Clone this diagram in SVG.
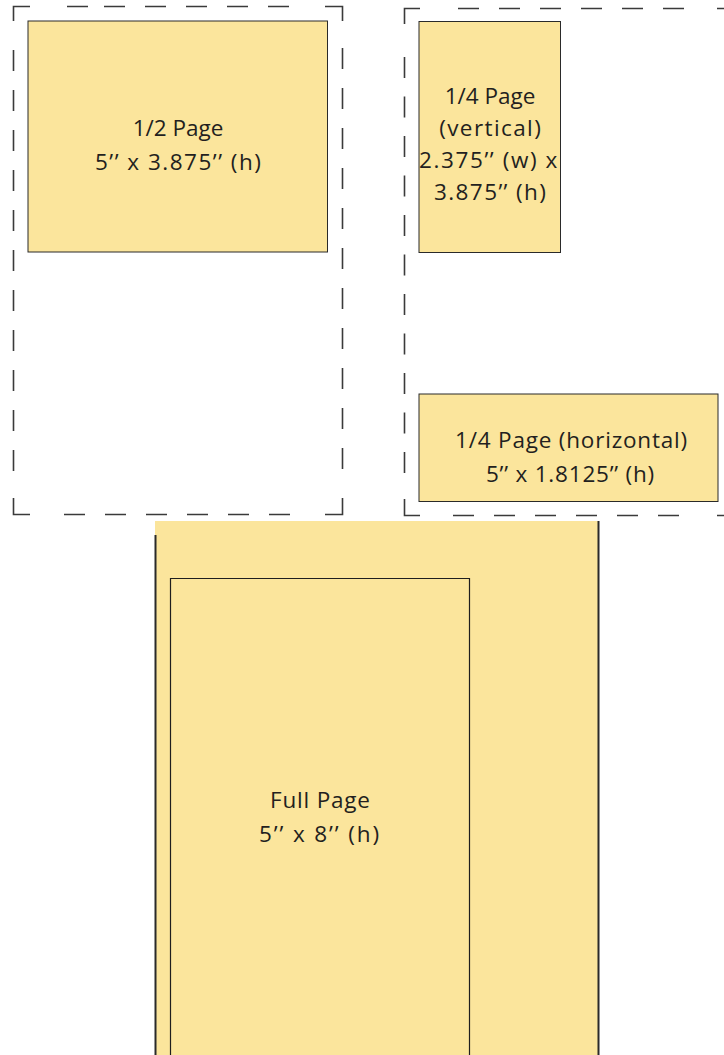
<svg xmlns="http://www.w3.org/2000/svg" width="724" height="1055" viewBox="0 0 724 1055">
<style>
.dash{fill:none;stroke:#3a3a3a;stroke-width:1.6}
.ad{fill:#FBE59C;stroke:#2a2a2a;stroke-width:1}
.t{font-family:"Open Sans","Noto Sans",sans-serif;font-size:22.5px;fill:#231F20;text-anchor:middle}
</style>
<rect width="724" height="1055" fill="#ffffff"/>
<g id="half-page-frame">
<path class="dash" d="M13.5,21 V6.5 H30 M67,6.5 h21 M104,6.5 h21 M145,6.5 h21 M186,6.5 h21 M227,6.5 h21 M268,6.5 h21 M325,6.5 H342.5 V21
M13.5,50 v21 M13.5,90 v21 M13.5,130 v21 M13.5,170 v21 M13.5,210 v21 M13.5,250 v21 M13.5,290 v21 M13.5,330 v21 M13.5,370 v21 M13.5,410 v21 M13.5,450 v21
M342.5,48 v21 M342.5,88 v21 M342.5,128 v21 M342.5,168 v21 M342.5,208 v21 M342.5,248 v21 M342.5,288 v21 M342.5,328 v21 M342.5,368 v21 M342.5,408 v21 M342.5,448 v21
M13.5,498 V514.5 H30 M64,514.5 h21 M105,514.5 h21 M146,514.5 h21 M187,514.5 h21 M228,514.5 h21 M269,514.5 h21 M325,514.5 H342.5 V498"/>
</g>
<g id="half-page">
<rect class="ad" x="28" y="21" width="299.5" height="231"/>
<text class="t" x="178" y="136">1/2 Page</text>
<text class="t" x="178.7" y="170" letter-spacing="1.5">5’’ x 3.875’’ (h)</text>
</g>
<g id="quarter-page-frame">
<path class="dash" d="M404.5,24 V8.5 H420 M458,8.5 h21 M499,8.5 h21 M540,8.5 h21 M581,8.5 h21 M622,8.5 h21 M663,8.5 h21 M717,8.5 h8
M404.5,57 v21 M404.5,96.5 v21 M404.5,136 v21 M404.5,175.5 v21 M404.5,215 v21 M404.5,254.5 v21 M404.5,294 v21 M404.5,333.5 v21 M404.5,373 v21 M404.5,412.5 v21 M404.5,452 v21
M404.5,499 V515.5 H420 M453,515.5 h21 M494,515.5 h21 M535,515.5 h21 M576,515.5 h21 M617,515.5 h21 M658,515.5 h21 M717,515.5 h8"/>
</g>
<g id="quarter-page-vertical">
<rect class="ad" x="419" y="21.5" width="141.5" height="231"/>
<text class="t" x="490" y="104">1/4 Page</text>
<text class="t" x="490.7" y="136" letter-spacing="1.4">(vertical)</text>
<text class="t" x="489" y="168" letter-spacing="1.6">2.375’’ (w) x</text>
<text class="t" x="490.7" y="200" letter-spacing="1.4">3.875’’ (h)</text>
</g>
<g id="quarter-page-horizontal">
<rect class="ad" x="419" y="394" width="299" height="107.5"/>
<text class="t" x="571.5" y="448" letter-spacing="0.8">1/4 Page (horizontal)</text>
<text class="t" x="570.5" y="482" letter-spacing="0.8">5’’ x 1.8125’’ (h)</text>
</g>
<g id="full-page">
<rect x="155" y="521" width="444" height="534" fill="#FBE59C"/>
<line x1="155.5" y1="535" x2="155.5" y2="1055" stroke="#2a2a2a" stroke-width="2"/>
<line x1="598.5" y1="521" x2="598.5" y2="1055" stroke="#2a2a2a" stroke-width="2"/>
<path d="M170.5,1056 V578.5 H469.5 V1056" fill="none" stroke="#1e1e1e" stroke-width="1.2"/>
<text class="t" x="320.4" y="808" letter-spacing="0.8">Full Page</text>
<text class="t" x="320" y="842" letter-spacing="1.9">5’’ x 8’’ (h)</text>
</g>
<g id="connectors"/>
</svg>
